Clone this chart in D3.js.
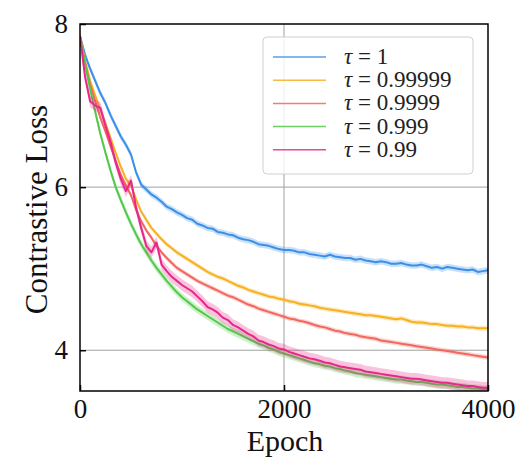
<!DOCTYPE html>
<html><head><meta charset="utf-8">
<script src="https://cdn.jsdelivr.net/npm/d3@7"></script>
<style>body{margin:0;background:#fff}svg{display:block}</style>
</head><body><svg id="c" width="519" height="459"></svg>
<script>
const epochs = d3.range(0, 4001, 50);
const xTicks = [0, 2000, 4000];
const yTicks = [4, 6, 8];
const seriesLabels = ["1", "0.99999", "0.9999", "0.999", "0.99"];
const seriesColors = ["#3a8fe8", "#f6b020", "#f2675f", "#52c94a", "#e8278a"];
const bandHalf = [0.04, 0.03, 0.03, 0.05, 0.07];

const lossTau1 = [7.85,7.62,7.45,7.30,7.15,7.03,6.88,6.75,6.62,6.52,
 6.40,6.18,6.03,5.97,5.91,5.87,5.82,5.76,5.73,5.69,
 5.66,5.62,5.60,5.55,5.53,5.50,5.49,5.45,5.44,5.42,
 5.41,5.38,5.36,5.35,5.33,5.30,5.29,5.28,5.26,5.24,
 5.23,5.23,5.22,5.20,5.20,5.18,5.17,5.16,5.15,5.17,
 5.15,5.14,5.13,5.13,5.11,5.12,5.10,5.09,5.08,5.09,
 5.08,5.06,5.06,5.07,5.05,5.04,5.04,5.05,5.03,5.01,
 5.02,5.00,5.02,5.01,5.00,4.99,4.98,4.99,4.96,4.97,
 4.98];
const lossTau99999 = [7.85,7.55,7.30,7.12,6.95,6.78,6.60,6.42,6.25,6.10,
 6.02,5.85,5.70,5.60,5.50,5.43,5.36,5.30,5.25,5.20,
 5.16,5.12,5.08,5.04,5.00,4.96,4.93,4.90,4.88,4.85,
 4.82,4.79,4.77,4.74,4.72,4.70,4.68,4.66,4.65,4.63,
 4.62,4.60,4.59,4.57,4.56,4.55,4.54,4.52,4.51,4.50,
 4.49,4.48,4.47,4.46,4.45,4.44,4.43,4.43,4.42,4.41,
 4.40,4.39,4.38,4.39,4.37,4.35,4.34,4.34,4.33,4.32,
 4.32,4.31,4.30,4.30,4.29,4.29,4.28,4.28,4.27,4.27,
 4.27];
const lossTau9999 = [7.85,7.52,7.25,7.05,6.85,6.68,6.50,6.32,6.15,6.02,
 5.90,5.72,5.58,5.47,5.38,5.28,5.20,5.13,5.07,5.01,
 4.97,4.93,4.89,4.85,4.82,4.79,4.76,4.73,4.70,4.67,
 4.65,4.62,4.59,4.56,4.54,4.51,4.49,4.47,4.45,4.43,
 4.41,4.39,4.38,4.36,4.35,4.33,4.31,4.29,4.28,4.26,
 4.24,4.23,4.21,4.20,4.19,4.17,4.16,4.15,4.14,4.12,
 4.11,4.10,4.09,4.08,4.07,4.06,4.05,4.04,4.03,4.02,
 4.01,4.00,3.99,3.98,3.97,3.96,3.95,3.94,3.93,3.92,
 3.91];
const lossTau999 = [7.85,7.50,7.20,6.92,6.65,6.42,6.20,6.00,5.84,5.69,
 5.55,5.42,5.30,5.20,5.10,5.01,4.93,4.85,4.78,4.71,
 4.65,4.60,4.55,4.50,4.46,4.42,4.38,4.34,4.30,4.26,
 4.23,4.20,4.17,4.14,4.11,4.08,4.06,4.03,4.01,3.98,
 3.96,3.94,3.92,3.90,3.88,3.86,3.84,3.83,3.81,3.80,
 3.78,3.77,3.75,3.74,3.72,3.71,3.70,3.69,3.68,3.67,
 3.66,3.65,3.64,3.64,3.63,3.62,3.61,3.61,3.60,3.59,
 3.58,3.58,3.57,3.56,3.55,3.55,3.54,3.53,3.53,3.52,
 3.52];
const lossTau99 = [7.85,7.35,7.05,7.00,6.97,6.75,6.55,6.30,6.10,5.95,
 6.08,5.75,5.50,5.28,5.20,5.32,5.05,4.97,4.90,4.85,
 4.80,4.76,4.72,4.66,4.60,4.53,4.50,4.46,4.40,4.37,
 4.31,4.28,4.24,4.20,4.17,4.12,4.10,4.07,4.05,4.02,
 4.01,3.98,3.96,3.94,3.92,3.90,3.89,3.87,3.85,3.84,
 3.82,3.80,3.79,3.78,3.77,3.76,3.74,3.73,3.72,3.71,
 3.70,3.69,3.68,3.67,3.66,3.65,3.65,3.64,3.63,3.62,
 3.61,3.60,3.60,3.59,3.58,3.57,3.56,3.56,3.55,3.54,
 3.54];
const seriesValues = [lossTau1, lossTau99999, lossTau9999, lossTau999, lossTau99];

const svg = d3.select("#c");
const L = 80, R = 488, T = 24, B = 391;
const x = d3.scaleLinear().domain([0, 4000]).range([L, R]);
const y = d3.scaleLinear().domain([3.5, 8]).range([B, T]);
const serif = "'Liberation Serif','Times New Roman',serif";

// grid
const g = svg.append("g");
g.selectAll(".gx").data([2000]).enter().append("line")
  .attr("x1", d => x(d)).attr("x2", d => x(d)).attr("y1", T).attr("y2", B)
  .attr("stroke", "#a0a0a0").attr("stroke-width", 1);
g.selectAll(".gy").data([4, 6]).enter().append("line")
  .attr("x1", L).attr("x2", R).attr("y1", d => y(d)).attr("y2", d => y(d))
  .attr("stroke", "#a0a0a0").attr("stroke-width", 1);

svg.append("clipPath").attr("id", "pc").append("rect")
  .attr("x", L).attr("y", T).attr("width", R - L).attr("height", B - T);
const plot = svg.append("g").attr("clip-path", "url(#pc)");

seriesValues.forEach((vals, i) => {
  const pts = epochs.map((e, k) => ({e, v: vals[k]}));
  const area = d3.area().x(d => x(d.e)).y0(d => y(d.v - bandHalf[i])).y1(d => y(d.v + bandHalf[i]));
  plot.append("path").attr("d", area(pts)).attr("fill", seriesColors[i]).attr("opacity", 0.28);
  const line = d3.line().x(d => x(d.e)).y(d => y(d.v));
  plot.append("path").attr("d", line(pts)).attr("fill", "none")
    .attr("stroke", seriesColors[i]).attr("stroke-width", 2).attr("stroke-linejoin", "round");
});

// axes
const fmt = d3.format("d");
const xAxis = d3.axisBottom(x).tickValues(xTicks).tickFormat(fmt).tickSizeInner(-6).tickSizeOuter(0).tickPadding(8);
const yAxis = d3.axisLeft(y).tickValues(yTicks).tickFormat(fmt).tickSizeInner(-6).tickSizeOuter(0).tickPadding(12);
const ax = svg.append("g").attr("transform", `translate(0,${B})`).call(xAxis);
const ay = svg.append("g").attr("transform", `translate(${L},0)`).call(yAxis);
[ax, ay].forEach(a => {
  a.select(".domain").remove();
  a.selectAll(".tick line").attr("stroke", "#000").attr("stroke-width", 1.5);
  a.selectAll("text").attr("font-family", serif).attr("font-size", 27).attr("fill", "#111");
});
ax.selectAll("text").attr("dy", "0.7em");

// frame
svg.append("rect").attr("x", L).attr("y", T).attr("width", R - L).attr("height", B - T)
  .attr("fill", "none").attr("stroke", "#000").attr("stroke-width", 1.5);

// axis labels
svg.append("text").attr("x", (L + R) / 2 + 1).attr("y", 451).attr("text-anchor", "middle")
  .attr("font-family", serif).attr("font-size", 30).attr("fill", "#111").text("Epoch");
svg.append("text").attr("transform", `translate(47,${(T + B) / 2 + 2}) rotate(-90)`)
  .attr("text-anchor", "middle").attr("font-family", serif).attr("font-size", 31)
  .attr("fill", "#111").text("Contrastive Loss");

// legend
const lg = svg.append("g");
lg.append("rect").attr("x", 263).attr("y", 37).attr("width", 210).attr("height", 137)
  .attr("rx", 4).attr("fill", "#fff").attr("fill-opacity", 0.8)
  .attr("stroke", "#d0d0d0").attr("stroke-width", 1);
seriesLabels.forEach((lab, i) => {
  const cy = 57 + i * 23.2;
  lg.append("line").attr("x1", 273).attr("x2", 326).attr("y1", cy).attr("y2", cy)
    .attr("stroke", seriesColors[i]).attr("stroke-width", 1.5).attr("opacity", 0.85);
  const t = lg.append("text").attr("x", 344).attr("y", cy + 7)
    .attr("font-family", serif).attr("font-size", 23).attr("fill", "#222");
  t.append("tspan").attr("font-style", "italic").text("τ");
  t.append("tspan").text(" = " + lab);
});
</script></body></html>
